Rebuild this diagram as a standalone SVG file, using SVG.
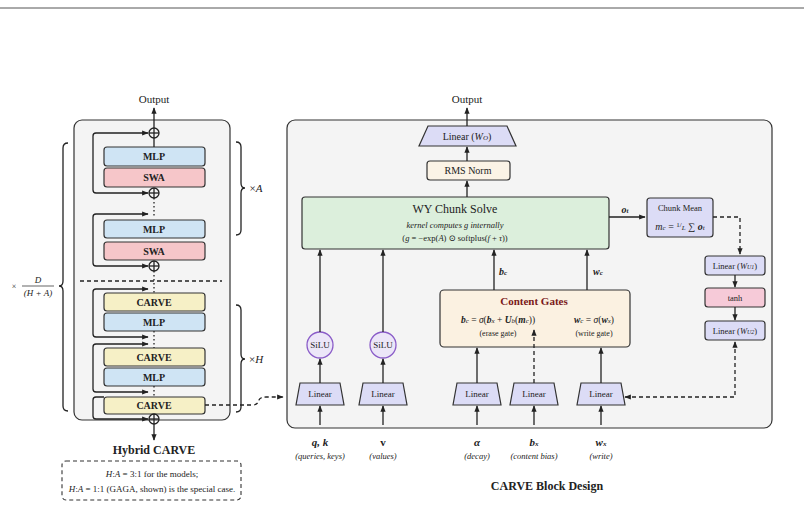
<svg xmlns="http://www.w3.org/2000/svg" width="804" height="508" viewBox="0 0 804 508" font-family="'Liberation Serif','DejaVu Serif',serif">
<defs>
<marker id="ah" viewBox="0 0 10 10" refX="9" refY="5" markerWidth="5" markerHeight="5" orient="auto-start-reverse"><path d="M0,1 L10,5 L0,9 z" fill="#222"/></marker>
<style>
text{font-family:"Liberation Serif","DejaVu Serif",serif;fill:#222;text-anchor:middle}
.ln{stroke:#222;stroke-width:1.3;fill:none}
.ar{stroke:#222;stroke-width:1.3;fill:none;marker-end:url(#ah)}
.lp{stroke:#222;stroke-width:1.3;fill:none;marker-end:url(#ah);marker-start:url(#ah)}
.da{stroke:#222;stroke-width:1.3;fill:none;stroke-dasharray:4,3}
.blk{stroke:#333;stroke-width:1.2}
.mlp{fill:#cfe4f4}.swa{fill:#f6c6c9}.carve{fill:#f6f0c6}
.lin{fill:#dcdcf6;stroke:#333;stroke-width:1.2}
.b{font-weight:bold;font-size:10px}
.i{font-style:italic}
</style>
</defs>
<rect width="804" height="508" fill="#fff"/>
<line x1="0" y1="8" x2="804" y2="8" stroke="#555" stroke-width="1"/>
<g id="hybrid-panel">
<rect x="74" y="120" width="156" height="300" rx="8" fill="#f4f4f4" stroke="#333" stroke-width="1.2"/>
</g>
<text x="154" y="103" font-size="11">Output</text>
<g id="mlp1"><rect class="blk mlp" x="104" y="147" width="101" height="19" rx="3"/><text class="b" x="154" y="160">MLP</text></g>
<g id="swa1"><rect class="blk swa" x="104" y="168" width="101" height="19" rx="3"/><text class="b" x="154" y="181">SWA</text></g>
<g id="mlp2"><rect class="blk mlp" x="104" y="220" width="101" height="18" rx="3"/><text class="b" x="154" y="233">MLP</text></g>
<g id="swa2"><rect class="blk swa" x="104" y="242" width="101" height="18" rx="3"/><text class="b" x="154" y="255">SWA</text></g>
<g id="carve1"><rect class="blk carve" x="104" y="293" width="101" height="18" rx="3"/><text class="b" x="154" y="306">CARVE</text></g>
<g id="mlp3"><rect class="blk mlp" x="104" y="313" width="101" height="18" rx="3"/><text class="b" x="154" y="326">MLP</text></g>
<g id="carve2"><rect class="blk carve" x="104" y="348" width="101" height="18" rx="3"/><text class="b" x="154" y="361">CARVE</text></g>
<g id="mlp4"><rect class="blk mlp" x="104" y="368" width="101" height="18" rx="3"/><text class="b" x="154" y="381">MLP</text></g>
<g id="carve3"><rect class="blk carve" x="104" y="397" width="101" height="17" rx="3"/><text class="b" x="154" y="409">CARVE</text></g>
<g id="plus-nodes" class="ln">
<circle cx="154" cy="133" r="5"/><line x1="149" y1="133" x2="159" y2="133"/><line x1="154" y1="128" x2="154" y2="138"/>
<circle cx="154" cy="193" r="5"/><line x1="149" y1="193" x2="159" y2="193"/><line x1="154" y1="188" x2="154" y2="198"/>
<circle cx="154" cy="266" r="5"/><line x1="149" y1="266" x2="159" y2="266"/><line x1="154" y1="261" x2="154" y2="271"/>
<circle cx="154" cy="419" r="5"/><line x1="149" y1="419" x2="159" y2="419"/><line x1="154" y1="414" x2="154" y2="424"/>
</g>
<g id="left-connectors">
<line class="ar" x1="154" y1="128" x2="154" y2="108"/>
<line class="ln" x1="154" y1="147" x2="154" y2="138"/>
<path class="lp" d="M148,133 H96 Q93,133 93,136 V190 Q93,193 96,193 H148"/>
<path class="lp" d="M148,214 H96 Q93,214 93,217 V263 Q93,266 96,266 H148"/>
<path class="lp" d="M148,289 H96 Q93,289 93,292 V334 Q93,337 96,337 H148"/>
<path class="lp" d="M148,344 H96 Q93,344 93,347 V389 Q93,392 96,392 H148"/>
<path class="ar" d="M104,397 H96 Q93,397 93,400 V416 Q93,419 96,419 H148"/>
<line class="ln" x1="154" y1="198" x2="154" y2="218" stroke-dasharray="1.5,2.5"/>
<line class="ln" x1="154" y1="271" x2="154" y2="293" stroke-dasharray="1.5,2.5"/>
<line class="ln" x1="154" y1="331" x2="154" y2="348" stroke-dasharray="1.5,2.5"/>
<line class="ln" x1="154" y1="386" x2="154" y2="397" stroke-dasharray="1.5,2.5"/>
<line class="ar" x1="154" y1="424" x2="154" y2="440"/>
<line class="da" x1="80" y1="281" x2="222" y2="281"/>
<path class="da" d="M205,405 H252 Q258,405 259,400 Q260,397 266,397 H283" marker-end="url(#ah)"/>
</g>
<g id="braces" class="ln">
<path d="M236,142 Q241,142 241,147 V183 Q241,188 245,188 Q241,188 241,193 V230 Q241,235 236,235"/>
<path d="M236,305 Q241,305 241,310 V354 Q241,359 245,359 Q241,359 241,364 V407 Q241,412 236,412"/>
<path d="M68,143 Q63,143 63,148 V281 Q63,286 59,286 Q63,286 63,291 V406 Q63,411 68,411"/>
</g>
<text x="256" y="192" font-size="11"><tspan>×</tspan><tspan class="i">A</tspan></text>
<text x="256" y="363" font-size="11"><tspan>×</tspan><tspan class="i">H</tspan></text>
<text x="14" y="289" font-size="8">×</text>
<text x="38" y="283" font-size="9" class="i">D</text>
<line x1="22" y1="286" x2="54" y2="286" stroke="#222" stroke-width="0.7"/>
<text x="38" y="296" font-size="9" class="i">(H + A)</text>
<text x="154" y="454" font-size="12" font-weight="bold">Hybrid CARVE</text>
<g id="note">
<rect x="62" y="461" width="179" height="39" rx="4" fill="none" stroke="#333" stroke-width="1.1" stroke-dasharray="4,3"/>
<text x="152" y="477" font-size="9"><tspan class="i">H</tspan>:<tspan class="i">A</tspan> = 3:1 for the models;</text>
<text x="152" y="492" font-size="9"><tspan class="i">H</tspan>:<tspan class="i">A</tspan> = 1:1 (GAGA, shown) is the special case.</text>
</g>
<g id="block-panel"><rect x="287" y="120" width="485" height="308" rx="8" fill="#f4f4f4" stroke="#333" stroke-width="1.2"/></g>
<text x="467" y="103" font-size="11">Output</text>
<g id="linear-wo"><path class="lin" d="M428,126 H507 L516,146 H419 Z"/><text x="467" y="140" font-size="10">Linear (<tspan class="i">W</tspan><tspan font-size="7" class="i">O</tspan>)</text></g>
<g id="rmsnorm"><rect x="427" y="161" width="83" height="19" rx="3" fill="#fbf3e6" stroke="#333" stroke-width="1.2"/><text x="468" y="174" font-size="10">RMS Norm</text></g>
<g id="wy"><rect x="302" y="197" width="307" height="52" rx="3" fill="#dcefdc" stroke="#333" stroke-width="1.2"/>
<text x="455" y="213" font-size="12">WY Chunk Solve</text>
<text x="455" y="228" font-size="8.5" class="i">kernel computes g internally</text>
<text x="455" y="241" font-size="8.5">(<tspan class="i">g</tspan> = −exp(<tspan class="i">A</tspan>) ⊙ softplus(<tspan class="i">f</tspan> + <tspan class="i">τ</tspan>))</text></g>
<g id="chunkmean"><rect x="647" y="198" width="66" height="39" rx="3" fill="#dcdcf6" stroke="#333" stroke-width="1.2"/>
<text x="680" y="211" font-size="8.5">Chunk Mean</text>
<text x="680" y="230" font-size="10"><tspan class="i">m</tspan><tspan font-size="7" class="i">c</tspan> = <tspan font-size="7" dy="-3">1</tspan><tspan font-size="7">/</tspan><tspan class="i" font-size="7" dy="3">L</tspan> ∑ <tspan class="i" font-weight="bold">o</tspan><tspan font-size="7" class="i">t</tspan></text></g>
<g id="linear-wu1"><rect x="705" y="256" width="60" height="19" rx="3" fill="#dcdcf6" stroke="#333" stroke-width="1.2"/><text x="735" y="269" font-size="8.5">Linear (<tspan class="i">W</tspan><tspan font-size="6" class="i">U1</tspan>)</text></g>
<g id="tanh"><rect x="705" y="288" width="60" height="19" rx="3" fill="#f6cad8" stroke="#333" stroke-width="1.2"/><text x="735" y="301" font-size="8.5">tanh</text></g>
<g id="linear-wu2"><rect x="705" y="321" width="60" height="19" rx="3" fill="#dcdcf6" stroke="#333" stroke-width="1.2"/><text x="735" y="334" font-size="8.5">Linear (<tspan class="i">W</tspan><tspan font-size="6" class="i">U2</tspan>)</text></g>
<g id="gates"><rect x="440" y="290" width="190" height="57" rx="4" fill="#fbf1e1" stroke="#333" stroke-width="1.2"/>
<text x="534" y="305" font-size="11" font-weight="bold" style="fill:#7a1a1a">Content Gates</text>
<text x="498" y="323" font-size="9.5"><tspan font-weight="bold" class="i">b</tspan><tspan font-size="7" class="i">c</tspan> = <tspan class="i">σ</tspan>(<tspan font-weight="bold" class="i">b</tspan><tspan font-size="7" class="i">x</tspan> + <tspan font-weight="bold" class="i">U</tspan><tspan font-size="7" class="i">b</tspan>(<tspan font-weight="bold" class="i">m</tspan><tspan font-size="7" class="i">c</tspan>))</text>
<text x="594" y="323" font-size="9.5"><tspan font-weight="bold" class="i">w</tspan><tspan font-size="7" class="i">c</tspan> = <tspan class="i">σ</tspan>(<tspan font-weight="bold" class="i">w</tspan><tspan font-size="7" class="i">x</tspan>)</text>
<text x="498" y="336" font-size="8">(erase gate)</text>
<text x="594" y="336" font-size="8">(write gate)</text></g>
<g id="silu1"><circle cx="320" cy="345" r="13" fill="#ece6f8" stroke="#8a5cc8" stroke-width="1.3"/><text x="320" y="348" font-size="9">SiLU</text></g>
<g id="silu2"><circle cx="383" cy="345" r="13" fill="#ece6f8" stroke="#8a5cc8" stroke-width="1.3"/><text x="383" y="348" font-size="9">SiLU</text></g>
<g id="lin-qk"><path class="lin" d="M300,383 H340 L344,405 H296 Z"/><text x="320" y="397" font-size="9">Linear</text></g>
<g id="lin-v"><path class="lin" d="M363,383 H403 L407,405 H359 Z"/><text x="383" y="397" font-size="9">Linear</text></g>
<g id="lin-a"><path class="lin" d="M457,383 H497 L501,405 H453 Z"/><text x="477" y="397" font-size="9">Linear</text></g>
<g id="lin-b"><path class="lin" d="M514,383 H554 L558,405 H510 Z"/><text x="534" y="397" font-size="9">Linear</text></g>
<g id="lin-w"><path class="lin" d="M581,383 H621 L625,405 H577 Z"/><text x="601" y="397" font-size="9">Linear</text></g>
<g id="right-connectors">
<line class="ar" x1="467" y1="126" x2="467" y2="108"/>
<line class="ar" x1="467" y1="161" x2="467" y2="147"/>
<line class="ar" x1="467" y1="197" x2="467" y2="181"/>
<line class="ar" x1="609" y1="217" x2="645" y2="217"/>
<path class="da" d="M713,217 H740 V254" marker-end="url(#ah)"/>
<line class="ar" x1="735" y1="275" x2="735" y2="287"/>
<line class="ar" x1="735" y1="307" x2="735" y2="320"/>
<path class="da" d="M735,342 V397 H625" marker-start="url(#ah)" marker-end="url(#ah)"/>
<line class="ar" x1="320" y1="332" x2="320" y2="250"/>
<line class="ar" x1="383" y1="332" x2="383" y2="250"/>
<line class="ar" x1="320" y1="383" x2="320" y2="359"/>
<line class="ar" x1="383" y1="383" x2="383" y2="359"/>
<line class="ar" x1="494" y1="290" x2="494" y2="250"/>
<line class="ar" x1="587" y1="290" x2="587" y2="250"/>
<line class="ar" x1="477" y1="383" x2="477" y2="348"/>
<line class="da" x1="534" y1="383" x2="534" y2="330" marker-end="url(#ah)"/>
<line class="ar" x1="601" y1="383" x2="601" y2="348"/>
<line class="ar" x1="320" y1="425" x2="320" y2="406"/>
<line class="ar" x1="383" y1="425" x2="383" y2="406"/>
<line class="ar" x1="477" y1="425" x2="477" y2="406"/>
<line class="ar" x1="534" y1="425" x2="534" y2="406"/>
<line class="ar" x1="601" y1="425" x2="601" y2="406"/>
</g>
<text x="625" y="213" font-size="10" font-weight="bold" class="i">o<tspan font-size="7">t</tspan></text>
<text x="503" y="275" font-size="10" font-weight="bold" class="i">b<tspan font-size="7">c</tspan></text>
<text x="598" y="275" font-size="10" font-weight="bold" class="i">w<tspan font-size="7">c</tspan></text>
<text x="320" y="446" font-size="11" font-weight="bold" class="i">q, k</text>
<text x="383" y="446" font-size="11" font-weight="bold">v</text>
<text x="477" y="446" font-size="11" font-weight="bold" class="i">α</text>
<text x="534" y="446" font-size="11" font-weight="bold" class="i">b<tspan font-size="7">x</tspan></text>
<text x="601" y="446" font-size="11" font-weight="bold" class="i">w<tspan font-size="7">x</tspan></text>
<text x="320" y="459" font-size="8.5" class="i">(queries, keys)</text>
<text x="383" y="459" font-size="8.5" class="i">(values)</text>
<text x="477" y="459" font-size="8.5" class="i">(decay)</text>
<text x="534" y="459" font-size="8.5" class="i">(content bias)</text>
<text x="601" y="459" font-size="8.5" class="i">(write)</text>
<text x="547" y="490" font-size="12" font-weight="bold">CARVE Block Design</text>
</svg>
